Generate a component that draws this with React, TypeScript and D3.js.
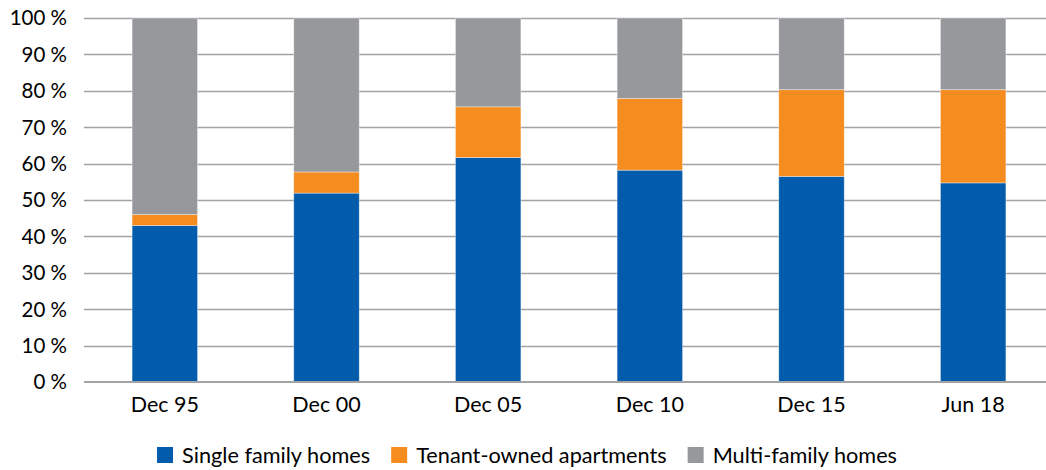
import React, { useEffect, useRef } from "react";
import * as d3 from "d3";

const categories = ["Dec 95", "Dec 00", "Dec 05", "Dec 10", "Dec 15", "Jun 18"];
const seriesNames = ["Single family homes", "Tenant-owned apartments", "Multi-family homes"];
const singleFamily = [43.0, 51.9, 61.7, 58.2, 56.5, 54.7];
const tenantOwned = [3.0, 5.8, 13.9, 19.7, 23.8, 25.6];
const multiFamily = [54.0, 42.3, 24.4, 22.1, 19.7, 19.7];
const yTicks = [0, 10, 20, 30, 40, 50, 60, 70, 80, 90, 100];
const colors = ["#035bab", "#f58c1f", "#97989c"];

const W = 1046;
const H = 470;
const FONT = "Lato, 'Open Sans', sans-serif";

export default function App() {
  const ref = useRef<SVGSVGElement | null>(null);

  useEffect(() => {
    const svg = d3.select(ref.current);
    svg.selectAll("*").remove();

    const margin = { left: 84, right: -8, top: 18, bottom: 88 };
    const x = d3
      .scaleBand<string>()
      .domain(categories)
      .range([margin.left, W - margin.right])
      .paddingInner(0.595)
      .paddingOuter(0.2975);
    const y = d3.scaleLinear().domain([0, 100]).range([H - margin.bottom, margin.top]);

    const table = categories.map((c, i) => ({
      cat: c,
      s0: singleFamily[i],
      s1: tenantOwned[i],
      s2: multiFamily[i],
    }));
    const stack = d3.stack<any>().keys(["s0", "s1", "s2"]);
    const stacked = stack(table);

    // gridlines
    svg
      .append("g")
      .selectAll("line")
      .data(yTicks.filter((t) => t > 0))
      .join("line")
      .attr("x1", margin.left)
      .attr("x2", W)
      .attr("y1", (d) => Math.round(y(d)) + 0.5)
      .attr("y2", (d) => Math.round(y(d)) + 0.5)
      .attr("stroke", "#a3a3a6")
      .attr("stroke-width", 1.3);

    // bars
    svg
      .append("g")
      .selectAll("g")
      .data(stacked)
      .join("g")
      .attr("fill", (_d, i) => colors[i])
      .selectAll("rect")
      .data((d) => d)
      .join("rect")
      .attr("x", (d: any) => x(d.data.cat)!)
      .attr("width", x.bandwidth())
      .attr("y", (d) => y(d[1]))
      .attr("height", (d) => y(d[0]) - y(d[1]))
      .attr("stroke", "#ffffff")
      .attr("stroke-opacity", 0.5)
      .attr("stroke-width", 0.75);

    // x axis line
    svg
      .append("line")
      .attr("x1", margin.left)
      .attr("x2", W)
      .attr("y1", y(0))
      .attr("y2", y(0))
      .attr("stroke", "#a3a3a6")
      .attr("stroke-width", 1.8);

    // y tick labels
    svg
      .append("g")
      .selectAll("text")
      .data(yTicks)
      .join("text")
      .attr("x", 67)
      .attr("y", (d) => y(d))
      .attr("dy", "0.36em")
      .attr("text-anchor", "end")
      .attr("font-family", FONT)
      .attr("font-size", 20.5)
      .attr("fill", "#000")
      .text((d) => `${d} %`);

    // x labels
    svg
      .append("g")
      .selectAll("text")
      .data(categories)
      .join("text")
      .attr("x", (d) => x(d)! + x.bandwidth() / 2)
      .attr("y", 412)
      .attr("text-anchor", "middle")
      .attr("font-family", FONT)
      .attr("font-size", 21.5)
      .attr("fill", "#000")
      .text((d) => d);

    // legend
    const lg = svg.append("g");
    const items = lg
      .selectAll("g")
      .data(seriesNames)
      .join("g");
    items
      .append("rect")
      .attr("width", 16)
      .attr("height", 16)
      .attr("y", -8)
      .attr("fill", (_d, i) => colors[i]);
    items
      .append("text")
      .attr("x", 25)
      .attr("dy", "0.36em")
      .attr("font-family", FONT)
      .attr("font-size", 21.7)
      .attr("fill", "#000")
      .text((d) => d);
    const widths: number[] = [];
    items.each(function () {
      const t = d3.select(this).select("text").node() as SVGTextElement;
      widths.push(25 + t.getComputedTextLength());
    });
    const gap = 21;
    const total = d3.sum(widths) + gap * (widths.length - 1);
    let cx = 527 - total / 2;
    items.attr("transform", (_d, i) => {
      const tx = cx;
      cx += widths[i] + gap;
      return `translate(${tx},455)`;
    });
  }, []);

  return (
    <svg
      ref={ref}
      width={W}
      height={H}
      style={{ position: "absolute", left: 0, top: 0, background: "#fff" }}
    />
  );
}
